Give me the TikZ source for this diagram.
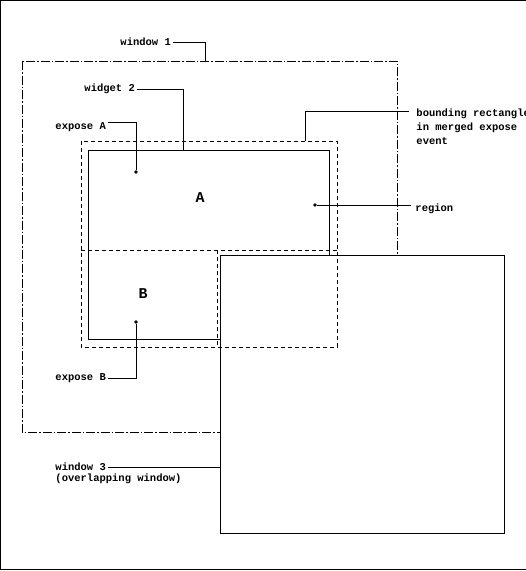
\documentclass[tikz,border=0pt]{standalone}
\usepackage{fontspec}
\setmonofont{Liberation Mono}
\usetikzlibrary{positioning}

\begin{document}
\begin{tikzpicture}[x=1pt,y=-1pt,
    lbl/.style={font=\ttfamily\bfseries\fontsize{10.5}{14}\selectfont,inner sep=2pt,anchor=west},
    big/.style={font=\ttfamily\bfseries\fontsize{15}{15}\selectfont,inner sep=0pt},
    winline/.style={line width=0.9pt,dash pattern=on 9pt off 2pt on 1.5pt off 2pt},
    expline/.style={line width=0.9pt,dash pattern=on 4pt off 3pt},
    dot/.style={circle,fill,inner sep=1.3pt},
    line width=0.9pt]
    \useasboundingbox (0,0) rectangle (526,571);
    % The frame
    \draw (0.75,0.75) rectangle (532,569.5);
    % The windows
    \draw[winline] (22,61) rectangle (397,432);
    \draw (88,150) rectangle (329,339);
    \node[draw,fill=white,minimum width=284pt,minimum height=278pt,
      anchor=north west,inner sep=0pt] (win3) at (220,255) {};
    % The exposed areas
    \draw[expline] (81,141) rectangle (337,347);
    \draw[expline] (81,250) -- (337,250);
    \draw[expline] (217,250) -- (217,347);
    \node[big] (A) at (200,198) {A};
    \node[big] (B) at (143,294) {B};
    \node[dot] (dotA) at (136,172) {};
    \node[dot] (dotB) at (136,322) {};
    \node[dot] (dotR) at (315,205) {};
    \coordinate (w1top) at (205,61);
    \coordinate (wg2top) at (183,150);
    \coordinate (bbtop) at (305,141);
    \coordinate (bbend) at (409,111);
    % The labels
    \node[lbl] (w1lbl) at (118,42) {window 1};
    \node[lbl] (wg2lbl) at (82,89) {widget 2};
    \node[lbl] (expAlbl) at (53,127) {expose A};
    \node[lbl,anchor=north west,align=left] (bblbl) at (414,106)
      {bounding rectangle\\in merged expose\\event};
    \node[lbl] (reglbl) at (413,209) {region};
    \node[lbl] (expBlbl) at (53,378) {expose B};
    \node[lbl] (w3lbl) at (53,467) {window 3};
    \node[lbl,below=-2pt of w3lbl.south west,anchor=north west] (w3sub) {(overlapping window)};
    % The leaders
    \draw (w1lbl.east) -| (w1top);
    \draw (wg2lbl.east) -| (wg2top);
    \draw (expAlbl.east |- 0,122) -| (dotA);
    \draw (bbtop) |- (bbend);
    \draw (dotR) -- ([xshift=-2pt]dotR -| reglbl.west);
    \draw (dotB) |- (expBlbl.east);
    \draw (w3lbl.east) -- (w3lbl.east -| win3.west);
\end{tikzpicture}
\end{document}
